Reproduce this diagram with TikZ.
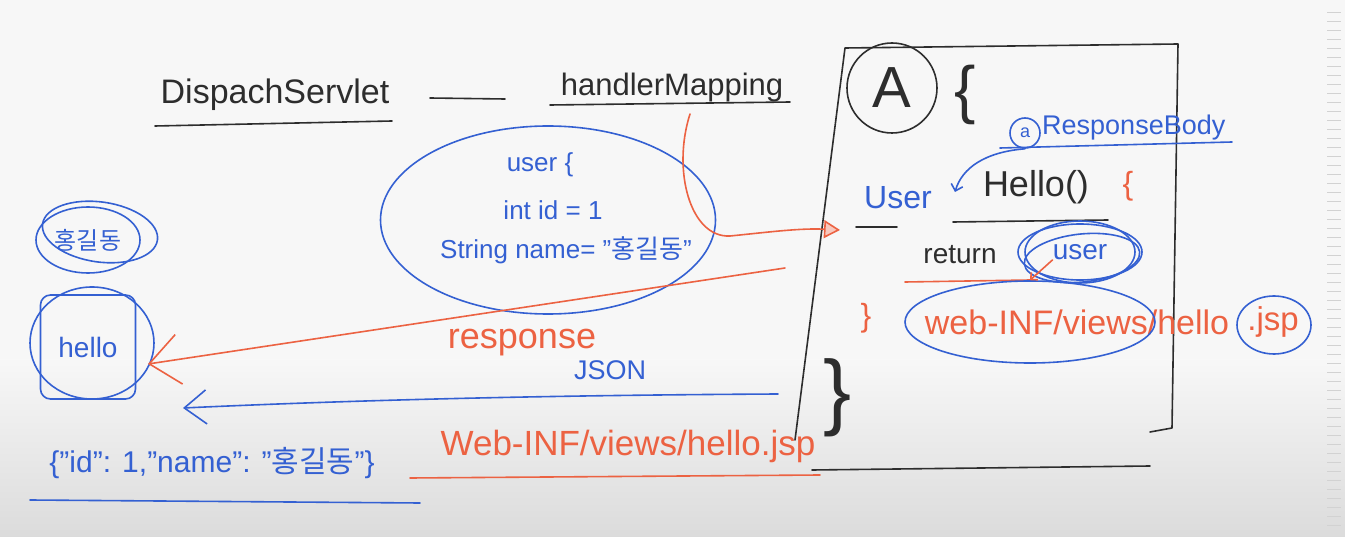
\documentclass[tikz,border=0pt]{standalone}
\usepackage{fontspec}
\setmainfont{Liberation Sans}
\newfontfamily\kr{Noto Sans CJK KR}
\usetikzlibrary{arrows.meta,shapes.geometric}
\definecolor{penblue}{RGB}{52,96,210}
\definecolor{penred}{RGB}{236,98,66}
\definecolor{penblack}{RGB}{45,45,45}

\begin{document}
\begin{tikzpicture}[x=1pt,y=-1pt,
  ink/.style={line width=1.6pt,line cap=round,line join=round},
  blueink/.style={ink,draw=penblue},
  redink/.style={ink,draw=penred},
  blackink/.style={ink,draw=penblack},
  word/.style={inner sep=0pt,font=\fontsize{#1}{#1}\selectfont},
  word/.default=26]

% whiteboard
\fill[gray!6] (0,0) rectangle (1345,537);
\shade[top color=gray!6,bottom color=gray!28] (0,360) rectangle (1345,537);
\foreach \y in {12,21,...,530} \draw[gray!35,line width=0.8pt] (1327,\y) -- (1341,\y);

% top line
\node[word=34,text=penblack] (ds) at (275,95) {DispachServlet};
\draw[blackink] (155,126) -- (392,121);
\coordinate (dashL) at (430,98);
\coordinate (dashR) at (505,99);
\draw[blackink] (dashL) -- (dashR);
\node[word=31,text=penblack] (hm) at (672,87) {handlerMapping};
\draw[blackink] (550,105) -- (790,102);

% user object
\node[ellipse,blueink,minimum width=335,minimum height=188] (userobj) at (548,220) {};
\node[word=26,text=penblue] (l1) at (540,165) {user \{};
\node[word=26,text=penblue] (l2) at (553,210) {int id = 1};
\node[word=26,text=penblue] (l3) at (566,250) {String name= "{\kr 홍길동}"};

% client side
\node[word=24,text=penblue] (name) at (88,240) {\kr 홍길동};
\draw[blueink] (name) ellipse (52 and 33);
\draw[blueink,rotate around={-8:(100,232)}] (100,232) ellipse (58 and 30);
\node[draw=penblue,ink,rounded corners=10,minimum width=95,minimum height=104,word=28,text=penblue] (hello) at (88,347) {hello};
\draw[blueink] (92,343) ellipse (62 and 56);

% arrows back to the client
\coordinate (respStart) at (785,268);
\coordinate (helloIn) at (148,364);
\draw[redink,-{Straight Barb[length=30pt,width=50pt,line width=1.6pt]}] (respStart) -- (helloIn);
\coordinate (jsonStart) at (778,394);
\coordinate (jsonIn) at (183,408);
\draw[blueink,-{Straight Barb[length=22pt,width=34pt,line width=1.6pt]}] (jsonStart) .. controls (600,395) and (400,398) .. (jsonIn);

\node[word=36,text=penred] (resp) at (522,343) {response};
\node[word=27,text=penblue] (json) at (610,370) {JSON};
\node[word=35,text=penred] (view) at (628,446) {Web-INF/views/hello.jsp};
\draw[redink] (410,478) -- (820,475);
\node[word=30,text=penblue] (jsonline) at (212,463) {\{"id": 1,"name": "{\kr 홍길동}"\}};
\draw[blueink] (30,500) -- (420,503);

% controller
\draw[blackink] (795,440) -- (845,48) -- (1178,44) -- (1172,428) -- (1150,432);
\draw[blackink] (812,470) -- (1150,466);
\node[circle,blackink,minimum width=90,word=58,text=penblack] (A) at (892,88) {A};
\node[word=64,text=penblack] (brA) at (965,95) {\{};

\node[circle,blueink,minimum size=30,inner sep=0pt,word=18,text=penblue] (at) at (1025,133) {a};
\node[word=27,text=penblue,anchor=west] (rb) at (1042,128) {ResponseBody};
\draw[blueink] (1000,148) -- (1232,142);
\coordinate (rbTip) at (955,192);
\draw[blueink,-{Straight Barb[length=6pt,width=12pt]}] (at.south) .. controls (985,152) and (962,168) .. (rbTip);

\node[word=32,text=penblue] (ret) at (898,198) {User};
\draw[blackink] (856,227) -- (897,227);
\node[word=36,text=penblack] (method) at (1036,187) {Hello()};
\node[word=32,text=penred] (brOpen) at (1128,186) {\{};
\draw[blackink] (953,222) -- (1108,220);

\node[word=28,text=penblack] (return) at (960,255) {return};
\node[word=28,text=penblue] (retuser) at (1080,252) {user};
\draw[blueink] (retuser) ellipse (62 and 28);
\draw[blueink,rotate around={6:(1082,258)}] (1082,258) ellipse (58 and 24);
\draw[blueink] (retuser) ellipse (55 and 31);
\draw[redink] (905,282) -- (1030,280);

\node[word=32,text=penred] (brClose) at (866,318) {\}};
\node[word=34,text=penred] (path) at (1077,322) {web-INF/views/hello};
\node[word=33,text=penred] (ext) at (1273,322) {.jsp};
\node[ellipse,blueink,minimum width=250,minimum height=82] (pathring) at (1030,322) {};
\node[ellipse,blueink,minimum width=74,minimum height=58] (extring) at (1274,325) {};
\draw[redink,-{Straight Barb[length=5pt,width=10pt]}] (retuser.south west) -- (pathring.north);

\node[word=84,text=penblack] (brEnd) at (838,398) {\}};

% mapping arrow into the controller
\coordinate (mapTip) at (840,230);
\draw[redink,-{Triangle[length=16pt,width=18pt,fill=penred!35]}] (690,114) .. controls (672,170) and (690,238) .. (730,236) .. controls (770,232) and (800,228) .. (mapTip);
\end{tikzpicture}
\end{document}
